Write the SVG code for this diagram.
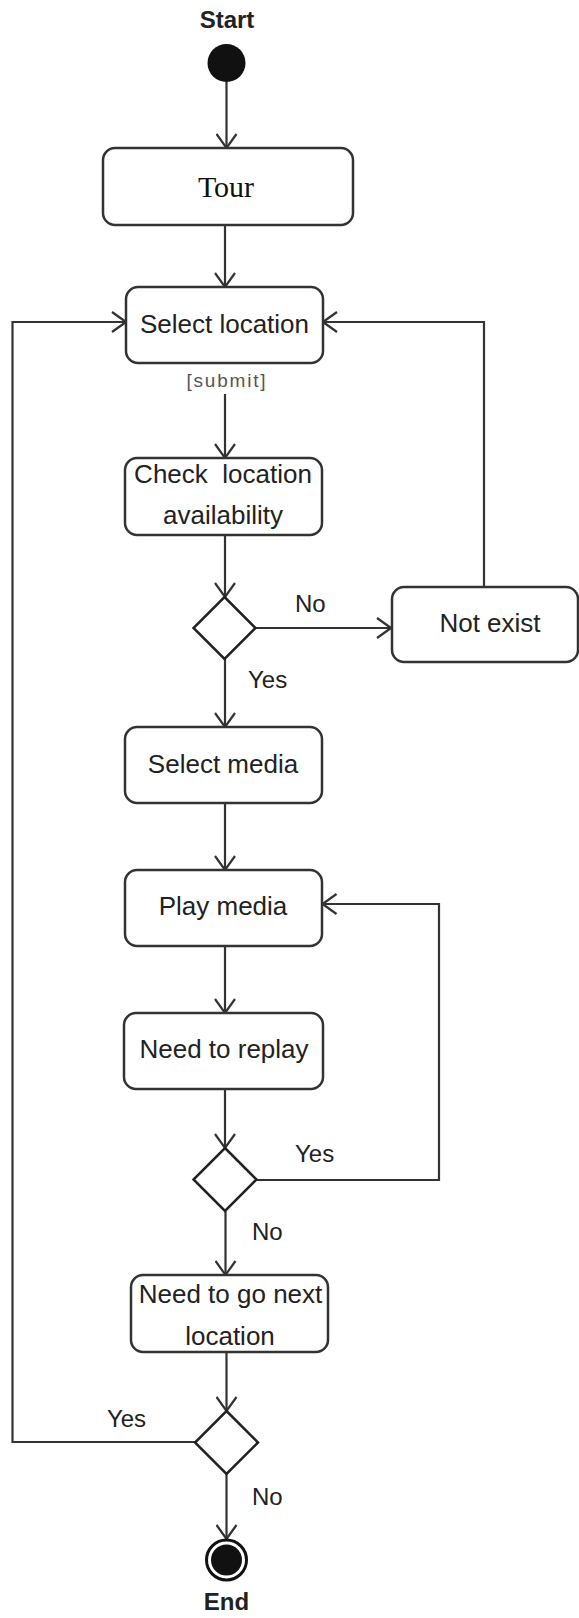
<svg xmlns="http://www.w3.org/2000/svg" width="579" height="1618" viewBox="0 0 579 1618">
<style>
.box{fill:#fff;stroke:#333;stroke-width:2.5}
.dia{fill:#fff;stroke:#222;stroke-width:2.5}
.edge{fill:none;stroke:#333;stroke-width:2.2}
.lbl{font-family:"Liberation Sans",Arial,sans-serif;font-size:26px;fill:#222;text-anchor:middle}
.g{font-family:"Liberation Sans",Arial,sans-serif;font-size:24px;fill:#222}
.b{font-family:"Liberation Sans",Arial,sans-serif;font-size:24px;font-weight:bold;fill:#222;text-anchor:middle}
</style>
<defs>
<marker id="arr" viewBox="0 0 16 22" refX="15" refY="11" markerWidth="16" markerHeight="22" markerUnits="userSpaceOnUse" orient="auto">
<path d="M1,1 L15,11 L1,21" fill="none" stroke="#333" stroke-width="2.2"/>
</marker>
</defs>
<rect width="579" height="1618" fill="#fff"/>
<g id="connectors">
<line class="edge" x1="226.5" y1="82" x2="226.5" y2="148" marker-end="url(#arr)"/>
<line class="edge" x1="225" y1="225" x2="225" y2="287" marker-end="url(#arr)"/>
<line class="edge" x1="225" y1="394" x2="225" y2="458" marker-end="url(#arr)"/>
<line class="edge" x1="225" y1="535" x2="225" y2="597" marker-end="url(#arr)"/>
<line class="edge" x1="255.5" y1="628" x2="391" y2="628" marker-end="url(#arr)"/>
<polyline class="edge" points="484,587 484,322 323,322" marker-end="url(#arr)"/>
<line class="edge" x1="225" y1="659" x2="225" y2="727" marker-end="url(#arr)"/>
<line class="edge" x1="225" y1="803" x2="225" y2="870" marker-end="url(#arr)"/>
<line class="edge" x1="225" y1="946" x2="225" y2="1013" marker-end="url(#arr)"/>
<line class="edge" x1="225" y1="1089" x2="225" y2="1148" marker-end="url(#arr)"/>
<polyline class="edge" points="256.5,1180 439,1180 439,904 322.5,904" marker-end="url(#arr)"/>
<line class="edge" x1="225.5" y1="1211" x2="225.5" y2="1275" marker-end="url(#arr)"/>
<line class="edge" x1="226.5" y1="1352" x2="226.5" y2="1411" marker-end="url(#arr)"/>
<polyline class="edge" points="195,1442 12.5,1442 12.5,322 126,322" marker-end="url(#arr)"/>
<line class="edge" x1="226.5" y1="1474" x2="226.5" y2="1539" marker-end="url(#arr)"/>
<text class="g" x="295" y="612">No</text>
<text class="g" x="248" y="688">Yes</text>
<text class="g" x="295" y="1162">Yes</text>
<text class="g" x="252" y="1240">No</text>
<text class="g" x="126.5" y="1427" text-anchor="middle">Yes</text>
<text class="g" x="252" y="1505">No</text>
<text x="226" y="387" font-family="Liberation Sans,Arial,sans-serif" font-size="19" fill="#555" text-anchor="middle" textLength="79" lengthAdjust="spacing">[submit]</text>
</g>
<g id="start">
<text class="b" x="227" y="28">Start</text>
<circle cx="226.5" cy="63" r="19" fill="#111"/>
</g>
<g id="tour">
<rect class="box" x="103" y="148" width="250" height="77" rx="12"/>
<text x="226" y="197" font-family="Liberation Serif,Times New Roman,serif" font-size="30" fill="#111" text-anchor="middle">Tour</text>
</g>
<g id="select-location">
<rect class="box" x="126" y="287" width="197" height="76" rx="12"/>
<text class="lbl" x="224.5" y="333">Select location</text>
</g>
<g id="check-location">
<rect class="box" x="125" y="458" width="197" height="77" rx="12"/>
<text class="lbl" x="223" y="483" xml:space="preserve">Check  location</text>
<text class="lbl" x="223" y="524">availability</text>
</g>
<g id="decision-exist">
<polygon class="dia" points="224.5,597 255.5,628 224.5,659 193.5,628"/>
</g>
<g id="not-exist">
<rect class="box" x="392" y="587" width="186" height="75" rx="12"/>
<text class="lbl" x="490" y="632">Not exist</text>
</g>
<g id="select-media">
<rect class="box" x="125" y="727" width="197" height="76" rx="12"/>
<text class="lbl" x="223" y="773">Select media</text>
</g>
<g id="play-media">
<rect class="box" x="125" y="870" width="197" height="76" rx="12"/>
<text class="lbl" x="223" y="915">Play media</text>
</g>
<g id="need-replay">
<rect class="box" x="124" y="1013" width="199" height="76" rx="12"/>
<text class="lbl" x="224" y="1058">Need to replay</text>
</g>
<g id="decision-replay">
<polygon class="dia" points="225,1148 256.5,1179.5 225,1211 193.5,1179.5"/>
</g>
<g id="need-next">
<rect class="box" x="131" y="1275" width="197" height="77" rx="12"/>
<text class="lbl" x="230.5" y="1303">Need to go next</text>
<text class="lbl" x="230" y="1345">location</text>
</g>
<g id="decision-next">
<polygon class="dia" points="226.5,1411 258,1442.5 226.5,1474 195,1442.5"/>
</g>
<g id="end">
<circle cx="226.5" cy="1560" r="20" fill="#fff" stroke="#111" stroke-width="3"/>
<circle cx="226.5" cy="1560" r="15.5" fill="#111"/>
<text class="b" x="226.5" y="1610">End</text>
</g>
</svg>
